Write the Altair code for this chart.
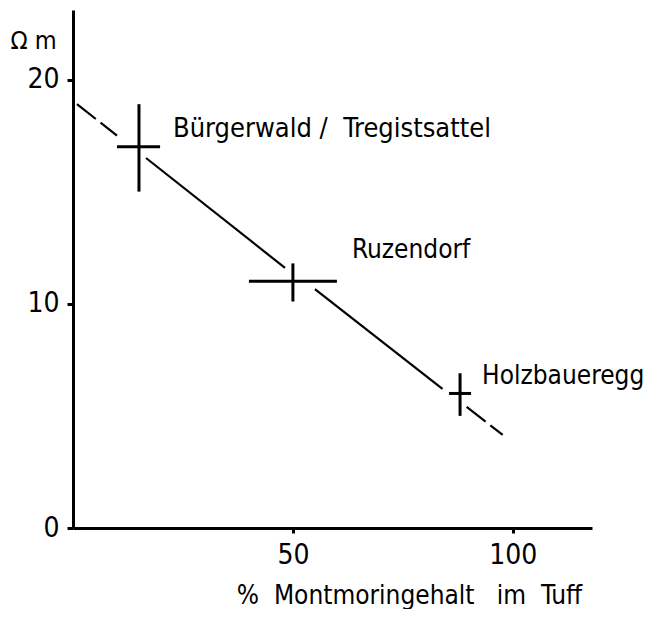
import altair as alt
import pandas as pd

# ---- data ----
sites = ["Bürgerwald\u00a0/\u00a0\u00a0Tregistsattel", "Ruzendorf", "Holzbaueregg"]
mont = [15, 50, 88]            # % Montmoringehalt
mont_lo = [10, 40, 85.5]
mont_hi = [19.8, 60, 90.5]
ohm = [17, 11, 6]              # Ohm m
ohm_lo = [15, 10.1, 5]
ohm_hi = [18.9, 11.8, 6.9]

# trend line pieces (gaps where it meets the crosses)
trend_x0 = [0.9, 16.6, 55, 89.5]
trend_y0 = [18.9, 16.5, 10.65, 5.4]
trend_x1 = [10, 48.2, 84, 97.7]
trend_y1 = [17.5, 11.6, 6.2, 4.15]
trend_style = ["dashed", "solid", "solid", "dashed"]

x_ticks = [50, 100]
y_ticks = [0, 10, 20]

pts = pd.DataFrame({"site": sites, "mont": mont, "mont_lo": mont_lo, "mont_hi": mont_hi,
                    "ohm": ohm, "ohm_lo": ohm_lo, "ohm_hi": ohm_hi})
trend = pd.DataFrame({"x0": trend_x0, "y0": trend_y0, "x1": trend_x1, "y1": trend_y1,
                      "style": trend_style})

FONT = "DejaVu Sans Condensed, Liberation Sans, sans-serif"

xs = alt.Scale(domain=[0, 118], nice=False, zero=False)
ys = alt.Scale(domain=[0, 23.1], nice=False, zero=False)
xaxis = alt.Axis(values=x_ticks,
                 title="%\u00a0\u00a0Montmoringehalt\u00a0\u00a0\u00a0im\u00a0\u00a0Tuff",
                 tickSize=5, labelPadding=8, titleX=336, titleY=75, titleAlign="center",
                 titleBaseline="alphabetic", titleFont=FONT, titleFontSize=26,
                 titleFontWeight="normal")
yaxis = alt.Axis(values=y_ticks, title="Ω m", tickSize=6, labelPadding=8, titleAngle=0,
                 titleX=-63, titleY=38, titleAlign="left", titleBaseline="alphabetic",
                 titleFont=FONT, titleFontSize=25, titleFontWeight="normal")

base_pts = alt.Chart(pts)

hbar = base_pts.mark_rule(strokeWidth=3, color="black").encode(
    x=alt.X("mont_lo:Q", scale=xs, axis=xaxis), x2="mont_hi:Q",
    y=alt.Y("ohm:Q", scale=ys, axis=yaxis))
vbar = base_pts.mark_rule(strokeWidth=3, color="black").encode(
    x=alt.X("mont:Q", scale=xs, axis=xaxis),
    y=alt.Y("ohm_lo:Q", scale=ys, axis=yaxis), y2="ohm_hi:Q")

solid = alt.Chart(trend).transform_filter(alt.datum.style == "solid").mark_rule(
    strokeWidth=2.2, color="black").encode(
    x=alt.X("x0:Q", scale=xs, axis=xaxis), y=alt.Y("y0:Q", scale=ys, axis=yaxis),
    x2="x1:Q", y2="y1:Q")
dashed = alt.Chart(trend).transform_filter(alt.datum.style == "dashed").mark_rule(
    strokeWidth=2.2, color="black", strokeDash=[24, 6]).encode(
    x=alt.X("x0:Q", scale=xs, axis=xaxis), y=alt.Y("y0:Q", scale=ys, axis=yaxis),
    x2="x1:Q", y2="y1:Q")

label_style = [(34, -10, 27), (59, -23, 26), (22, -9, 26)]
labels = []
for i, (dx, dy, fs) in enumerate(label_style):
    labels.append(
        alt.Chart(pts.iloc[[i]]).mark_text(
            align="left", baseline="alphabetic", dx=dx, dy=dy, font=FONT,
            fontSize=fs, color="black").encode(
            x=alt.X("mont:Q", scale=xs, axis=xaxis),
            y=alt.Y("ohm:Q", scale=ys, axis=yaxis),
            text="site:N"))

chart = alt.layer(hbar, vbar, solid, dashed, *labels).properties(
    width=519, height=518,
    padding={"left": 65, "top": 2, "right": 52, "bottom": 81},
    autosize=alt.AutoSizeParams(type="none"),
    background="white",
).configure_view(stroke=None).configure_axis(
    grid=False, domainColor="black", domainWidth=3, tickColor="black", tickWidth=3,
    labelColor="black", labelFont=FONT, labelFontSize=28, titleColor="black",
)

chart.save("out.html", embed_options={"renderer": "svg", "actions": False})
